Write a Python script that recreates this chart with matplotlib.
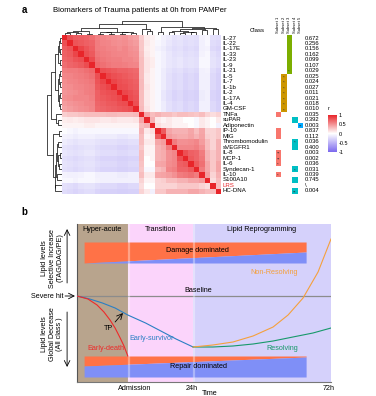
import numpy as np
import matplotlib
matplotlib.use('Agg')
import matplotlib.pyplot as plt
from matplotlib.colors import LinearSegmentedColormap

plt.rcParams['font.family'] = ['Liberation Sans', 'DejaVu Sans']

# ---------------- data: panel a ----------------
markers = ['IL-27', 'IL-22', 'IL-17E', 'IL-33', 'IL-23', 'IL-9', 'IL-21', 'IL-5', 'IL-7',
           'IL-1b', 'IL-2', 'IL-17A', 'IL-4', 'GM-CSF', 'TNFa', 'suPAR', 'Adiponectin',
           'IP-10', 'MIG', 'Thrombomodulin', 'sVEGFR1', 'IL-8', 'MCP-1', 'IL-6',
           'Syndecan-1', 'IL-10', 'S100A10', 'LRS', 'HC-DNA']
p_values = ['0.672', '0.256', '0.156', '0.162', '0.099', '0.107', '0.029', '0.025', '0.024',
            '0.027', '0.011', '0.021', '0.018', '0.010', '0.035', '0.392', '0.003', '0.837',
            '0.112', '0.036', '0.400', '0.003', '0.002', '0.036', '0.031', '0.039', '0.745',
            '\\', '0.004']

# upper triangle of the correlation matrix (row i, columns i+1 .. end)
corr_upper = [
    [0.80, 0.74, 0.72, 0.70, 0.66, 0.58, 0.55, 0.52, 0.50, 0.48, 0.50, 0.45, 0.42, 0.22, 0.08, 0.05,
     -0.02, -0.08, -0.12, -0.18, -0.15, -0.20, -0.18, -0.20, -0.08, -0.05, -0.20, -0.22],
    [0.78, 0.75, 0.72, 0.70, 0.60, 0.56, 0.55, 0.52, 0.50, 0.52, 0.48, 0.45, 0.25, 0.10, 0.05,
     -0.05, -0.10, -0.15, -0.20, -0.18, -0.22, -0.20, -0.22, -0.10, -0.05, -0.22, -0.25],
    [0.85, 0.78, 0.72, 0.60, 0.58, 0.56, 0.55, 0.52, 0.55, 0.50, 0.48, 0.25, 0.08, 0.05,
     -0.08, -0.12, -0.18, -0.22, -0.20, -0.25, -0.22, -0.25, -0.10, -0.08, -0.25, -0.28],
    [0.80, 0.75, 0.62, 0.60, 0.58, 0.56, 0.55, 0.55, 0.52, 0.50, 0.28, 0.10, 0.05,
     -0.05, -0.10, -0.15, -0.20, -0.18, -0.22, -0.20, -0.22, -0.08, -0.05, -0.20, -0.25],
    [0.82, 0.65, 0.62, 0.60, 0.58, 0.58, 0.55, 0.55, 0.52, 0.30, 0.12, 0.08,
     -0.05, -0.10, -0.15, -0.18, -0.15, -0.20, -0.18, -0.20, -0.05, -0.05, -0.18, -0.22],
    [0.68, 0.65, 0.62, 0.60, 0.60, 0.58, 0.56, 0.55, 0.30, 0.12, 0.08,
     -0.05, -0.10, -0.15, -0.18, -0.15, -0.20, -0.18, -0.20, -0.05, -0.05, -0.18, -0.22],
    [0.80, 0.78, 0.75, 0.72, 0.72, 0.70, 0.68, 0.30, 0.12, 0.05,
     -0.05, -0.12, -0.18, -0.22, -0.20, -0.25, -0.22, -0.25, -0.10, -0.08, -0.22, -0.28],
    [0.85, 0.80, 0.78, 0.75, 0.72, 0.70, 0.30, 0.10, 0.05,
     -0.05, -0.12, -0.20, -0.25, -0.22, -0.28, -0.25, -0.28, -0.10, -0.10, -0.25, -0.30],
    [0.85, 0.80, 0.78, 0.75, 0.72, 0.32, 0.10, 0.05,
     -0.05, -0.12, -0.20, -0.25, -0.22, -0.28, -0.25, -0.28, -0.10, -0.10, -0.25, -0.30],
    [0.82, 0.80, 0.76, 0.74, 0.32, 0.12, 0.05,
     -0.05, -0.12, -0.20, -0.25, -0.22, -0.28, -0.25, -0.28, -0.10, -0.10, -0.25, -0.30],
    [0.84, 0.80, 0.76, 0.30, 0.10, 0.05,
     -0.05, -0.15, -0.22, -0.28, -0.25, -0.30, -0.28, -0.30, -0.12, -0.10, -0.28, -0.32],
    [0.82, 0.78, 0.30, 0.10, 0.05,
     -0.05, -0.15, -0.22, -0.28, -0.25, -0.30, -0.28, -0.30, -0.12, -0.10, -0.28, -0.32],
    [0.80, 0.30, 0.10, 0.05,
     -0.05, -0.12, -0.20, -0.25, -0.22, -0.28, -0.25, -0.28, -0.10, -0.10, -0.25, -0.30],
    [0.32, 0.12, 0.05,
     -0.05, -0.12, -0.20, -0.25, -0.22, -0.28, -0.25, -0.28, -0.10, -0.10, -0.25, -0.30],
    [0.40, 0.30, 0.35, 0.30, 0.30, 0.25, 0.30, 0.30, 0.28, 0.25, 0.30, 0.20, 0.15, 0.20],
    [0.35, 0.10, 0.05, 0.10, 0.05, 0.05, 0.00, 0.00, -0.05, 0.10, 0.05, 0.00, 0.10],
    [0.15, 0.10, 0.10, 0.05, 0.05, 0.05, 0.00, -0.05, 0.10, 0.05, 0.00, -0.10],
    [0.75, 0.40, 0.35, 0.35, 0.35, 0.40, 0.30, 0.40, 0.20, 0.20, 0.25],
    [0.45, 0.40, 0.38, 0.38, 0.42, 0.35, 0.42, 0.22, 0.20, 0.25],
    [0.60, 0.50, 0.50, 0.52, 0.55, 0.45, 0.30, 0.20, 0.35],
    [0.55, 0.55, 0.55, 0.58, 0.50, 0.30, 0.20, 0.35],
    [0.80, 0.72, 0.70, 0.60, 0.35, 0.25, 0.35],
    [0.75, 0.70, 0.62, 0.35, 0.25, 0.35],
    [0.75, 0.65, 0.40, 0.25, 0.40],
    [0.60, 0.40, 0.25, 0.40],
    [0.45, 0.20, 0.35],
    [0.15, 0.30],
    [0.30],
]

# hierarchical clustering merges: (child a, child b, height); ids >= 29 are earlier merges
linkage = [
    (0, 1, 0.15), (2, 3, 0.15), (4, 5, 0.12), (29, 30, 0.22), (32, 31, 0.28),
    (6, 7, 0.12), (8, 9, 0.12), (10, 11, 0.12), (12, 13, 0.15), (34, 35, 0.20),
    (36, 37, 0.20), (38, 39, 0.26), (33, 40, 0.50), (15, 16, 0.30), (14, 42, 0.40),
    (41, 43, 0.75), (17, 18, 0.20), (19, 20, 0.25), (21, 22, 0.15), (23, 24, 0.20),
    (47, 48, 0.25), (46, 49, 0.32), (25, 26, 0.35), (50, 51, 0.40), (27, 28, 0.45),
    (52, 53, 0.50), (45, 54, 0.60), (44, 55, 1.00),
]

ann_headers = ['Subset 1', 'Subset 2', 'Subset 3', 'Subset 4', 'Subset 5']
ann_colors = ['#F8766D', '#CD9600', '#7CAE00', '#00BFC4', '#00A9FF']
ann_members = [
    ['TNFa', 'IP-10', 'MIG', 'IL-8', 'MCP-1', 'IL-6', 'IL-10'],
    ['IL-5', 'IL-7', 'IL-1b', 'IL-2', 'IL-17A', 'IL-4', 'GM-CSF'],
    ['IL-27', 'IL-22', 'IL-17E', 'IL-33', 'IL-23', 'IL-9', 'IL-21'],
    ['suPAR', 'Thrombomodulin', 'sVEGFR1', 'Syndecan-1', 'S100A10', 'HC-DNA'],
    ['Adiponectin'],
]
ann_marks = [
    {'IL-8': '**', 'MCP-1': '**', 'IL-6': '*', 'IL-10': '*'},
    {'IL-5': '*', 'IL-7': '*', 'IL-1b': '*', 'IL-2': '*', 'IL-17A': '*', 'IL-4': '*', 'GM-CSF': '*'},
    {'IL-21': '*'},
    {'Thrombomodulin': '*', 'Syndecan-1': '*', 'HC-DNA': '**'},
    {'Adiponectin': '**'},
]
cbar_ticks = [1, 0.5, 0, -0.5, -1]

# ---------------- data: panel b ----------------
phase_edges = [0, 20, 45.7, 100]
phase_names = ['Hyper-acute', 'Transition', 'Lipid Reprogramming']
phase_colors = ['#b8a48d', '#fbd4fb', '#d5d1fb']

damage_x = [2.8, 90.2]
damage_top = [5.4, 5.4]
damage_mid = [3.3, 4.4]
damage_bot = [3.3, 3.3]
repair_x = [2.8, 90.2]
repair_top = [-6.0, -6.0]
repair_mid = [-7.0, -6.1]
repair_bot = [-8.1, -8.1]

survivor_x = [0, 5, 10, 15, 20, 27, 33, 39, 45.7]
survivor_y = [0, -0.3, -0.7, -1.2, -1.9, -2.7, -3.5, -4.3, -5.1]
death_x = [0, 4.3, 7.9, 10.6, 13, 15, 17, 18.5, 20]
death_y = [0, -0.3, -0.9, -1.6, -2.4, -3.2, -4.2, -5.0, -6.0]
nonres_x = [45.7, 53.5, 61.4, 69.3, 77.2, 83.1, 89.0, 94.9, 100]
nonres_y = [-5.1, -4.9, -4.6, -4.0, -3.1, -1.9, -0.2, 2.4, 5.7]
res_x = [45.7, 53.5, 61.4, 69.3, 77.2, 85.0, 92.9, 100]
res_y = [-5.1, -5.1, -5.0, -4.8, -4.5, -4.1, -3.7, -3.2]

# ---------------- figure ----------------
W, H = 376, 396
fig = plt.figure(figsize=(W / 100, H / 100), dpi=100)


def box(x0, y0, x1, y1):
    return fig.add_axes([x0 / W, 1 - y1 / H, (x1 - x0) / W, (y1 - y0) / H])


def ftext(x, y, s, **kw):
    fig.text(x / W, 1 - y / H, s, **kw)


n = len(markers)
corr = np.eye(n)
for i, row in enumerate(corr_upper):
    for k, v in enumerate(row):
        j = i + 1 + k
        corr[i, j] = v
        corr[j, i] = v

cmap = LinearSegmentedColormap.from_list('rwp', ['#7b68ee', '#ffffff', '#e8252a'])

HM = (62, 35.3, 221, 193.6)
axh = box(*HM)
im = axh.imshow(corr, cmap=cmap, vmin=-1, vmax=1, aspect='auto', interpolation='nearest')
axh.axis('off')
for i, m in enumerate(markers):
    axh.text(n - 0.5 + 0.3, i, m, fontsize=4.4, va='center', ha='left',
             color='#e8252a' if m == 'LRS' else 'black')

# dendrograms
pos = {i: float(i) for i in range(n)}
hgt = {i: 0.0 for i in range(n)}
segs = []
for k, (a, b, h) in enumerate(linkage):
    segs.append(([pos[a], pos[a], pos[b], pos[b]], [hgt[a], h, h, hgt[b]]))
    pos[n + k] = (pos[a] + pos[b]) / 2
    hgt[n + k] = h

axt = box(62, 20.5, 221, 35.3)
axl = box(47, 35.3, 62, 193.6)
for xs, hs in segs:
    axt.plot(xs, hs, color='black', lw=0.5, solid_capstyle='butt')
    axl.plot(hs, xs, color='black', lw=0.5, solid_capstyle='butt')
axt.set_xlim(-0.5, n - 0.5)
axt.set_ylim(0, 1.02)
axt.axis('off')
axl.set_ylim(n - 0.5, -0.5)
axl.set_xlim(1.02, 0)
axl.axis('off')

# annotation columns
axa = box(275.5, 35.3, 303, 193.6)
for c, (members, col) in enumerate(zip(ann_members, ann_colors)):
    rows = [markers.index(m) for m in members]
    axa.barh(rows, [1] * len(rows), left=c, height=1.0, color=col, lw=0)
    for m, s in ann_marks[c].items():
        axa.text(c + 0.5, markers.index(m) + 0.25, s, fontsize=3.2, ha='center',
                 va='center', color='#333333')
axa.set_xlim(0, 5)
axa.set_ylim(n - 0.5, -0.5)
axa.axis('off')
for c, hname in enumerate(ann_headers):
    axa.text(c + 0.5, -0.9, hname, rotation=90, fontsize=3.0, ha='center', va='bottom')
for i, p in enumerate(p_values):
    axa.text(5.35, i, p, fontsize=4.2, va='center', ha='left')
ftext(257, 31, 'Class', fontsize=4.3, ha='center', va='center')

# colorbar
cax = box(328, 115, 337, 152)
cb = fig.colorbar(im, cax=cax, ticks=cbar_ticks)
cb.ax.set_yticklabels([str(t) for t in cbar_ticks])
cb.ax.tick_params(labelsize=4, length=0, pad=1.5)
cb.outline.set_visible(False)
ftext(329, 109, 'r', fontsize=4, ha='center', va='center')

ftext(24.5, 10, 'a', fontsize=7, fontweight='bold', ha='center', va='center')
ftext(53, 10, 'Biomarkers of Trauma patients at 0h from PAMPer', fontsize=5.6,
      ha='left', va='center')

# ---------------- panel b ----------------
ftext(24.5, 212, 'b', fontsize=7, fontweight='bold', ha='center', va='center')
axb = box(77, 224, 331, 382)
axb.set_xlim(0, 100)
axb.set_ylim(-8.6, 7.2)
for k in range(3):
    axb.axvspan(phase_edges[k], phase_edges[k + 1], color=phase_colors[k], lw=0, zorder=0)
    axb.text((phase_edges[k] + phase_edges[k + 1]) / 2, 6.7, phase_names[k], fontsize=5.2,
             ha='center', va='center')

orange = '#FF7247'
blue = '#7F8FF7'
axb.fill_between(damage_x, damage_mid, damage_top, color=orange, lw=0, zorder=2)
axb.fill_between(damage_x, damage_bot, damage_mid, color=blue, lw=0, zorder=2)
axb.fill_between(repair_x, repair_mid, repair_top, color=orange, lw=0, zorder=2)
axb.fill_between(repair_x, repair_bot, repair_mid, color=blue, lw=0, zorder=2)
# light seams at the phase boundaries
for xb in phase_edges[1:3]:
    axb.axvline(xb + 0.35, color='white', alpha=0.35, lw=1.6, zorder=2.5)
axb.text(47.6, 4.6, 'Damage dominated', fontsize=5.2, ha='center', va='center', zorder=3)
axb.text(48.0, -7.1, 'Repair dominated', fontsize=5.2, ha='center', va='center', zorder=3)

axb.axhline(0, color='#8c8c8c', lw=0.9, zorder=1)
axb.text(42.1, 0.25, 'Baseline', fontsize=5.2, ha='left', va='bottom')

axb.plot(survivor_x, survivor_y, color='#2a7fc4', lw=0.8, zorder=4)
axb.plot(death_x, death_y, color='#ee2a2a', lw=0.8, zorder=4)
axb.plot(res_x, res_y, color='#17996a', lw=0.8, zorder=4)
axb.plot(nonres_x, nonres_y, color='#f5a03c', lw=0.8, zorder=4)

axb.text(77.6, 2.3, 'Non-Resolving', fontsize=5.2, color='#f5a03c', ha='center', va='center')
axb.text(29.3, -4.2, 'Early-survivor', fontsize=5.2, color='#2a7fc4', ha='center', va='center')
axb.text(11.3, -5.2, 'Early-death', fontsize=5.2, color='#ee2a2a', ha='center', va='center')
axb.text(80.8, -5.2, 'Resolving', fontsize=5.2, color='#17996a', ha='center', va='center')
axb.text(12.2, -3.2, 'TP', fontsize=5.2, ha='center', va='center')
axb.annotate('', xy=(18.1, -1.7), xytext=(15.0, -2.6),
             arrowprops=dict(arrowstyle='->', lw=0.6, color='black', shrinkA=0, shrinkB=0))

axb.annotate('', xy=(-0.8, 0), xytext=(-4.7, 0), annotation_clip=False,
             arrowprops=dict(arrowstyle='->', lw=0.6, color='black', shrinkA=0, shrinkB=0))
axb.text(-5.5, 0, 'Severe hit', fontsize=5.2, ha='right', va='center')

axb.annotate('', xy=(-3.9, 6.7), xytext=(-3.9, 1.3), annotation_clip=False,
             arrowprops=dict(arrowstyle='->', lw=0.6, color='black', shrinkA=0, shrinkB=0))
axb.annotate('', xy=(-3.9, -7.1), xytext=(-3.9, -1.6), annotation_clip=False,
             arrowprops=dict(arrowstyle='->', lw=0.6, color='black', shrinkA=0, shrinkB=0))
ftext(52, 258, 'Lipid levels\nSelective Increase\n(TAG/DAG/PE)', fontsize=5.2, rotation=90,
      ha='center', va='center', multialignment='center', linespacing=1.15)
ftext(52, 334, 'Lipid levels\nGlobal Decrease\n(All class )', fontsize=5.2, rotation=90,
      ha='center', va='center', multialignment='center', linespacing=1.15)

for s in ['top', 'right']:
    axb.spines[s].set_visible(False)
axb.spines['left'].set_color('#555555')
axb.spines['bottom'].set_color('#777777')
axb.spines['left'].set_linewidth(0.8)
axb.spines['bottom'].set_linewidth(0.8)
axb.set_xticks([])
axb.set_yticks([])
xt = axb.get_xaxis_transform()
for x, lab in zip([22.6, 45.1, 99.2], ['Admission', '24h', '72h']):
    axb.text(x, -0.04, lab, transform=xt, fontsize=5.2, ha='center', va='center')
axb.text(52.4, -0.07, 'Time', transform=xt, fontsize=5.2, ha='center', va='center')

fig.savefig('out.png', dpi=100)
